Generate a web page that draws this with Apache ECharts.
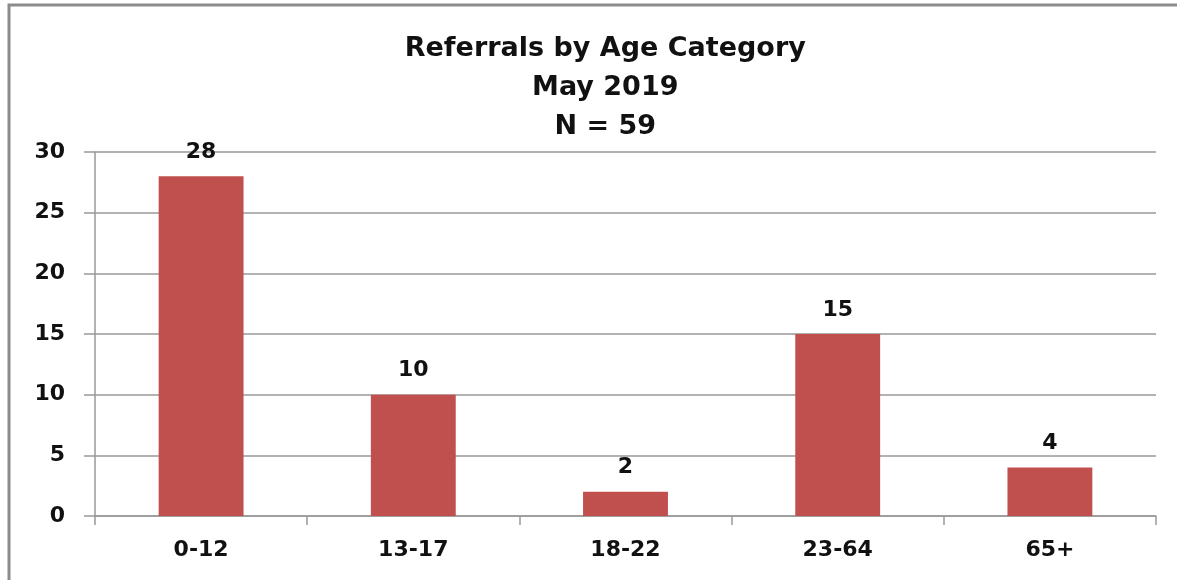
<!DOCTYPE html>
<html><head><meta charset="utf-8">
<script src="https://cdn.jsdelivr.net/npm/echarts@6/dist/echarts.min.js"></script>
<style>html,body{margin:0;padding:0;background:#fff}#c{width:1177px;height:580px}</style>
</head><body><div id="c"></div>
<script>
const categories = ['0-12', '13-17', '18-22', '23-64', '65+'];
const referrals = [28, 10, 2, 15, 4];
const titleLines = ['Referrals by Age Category', 'May 2019', 'N = 59'];
const yTicks = {min: 0, max: 30, interval: 5};

const FONT = '"DejaVu Sans", sans-serif';
const chart = echarts.init(document.getElementById('c'), null, {renderer: 'canvas'});
chart.setOption({
  backgroundColor: '#fff',
  animation: false,
  graphic: [{
    type: 'rect', shape: {x: 9, y: 5, width: 1200, height: 600},
    style: {fill: 'none', stroke: '#8c8c8c', lineWidth: 3}, silent: true
  }],
  title: {
    text: titleLines.join('\n'), left: '51%', top: 24, textAlign: 'center',
    textStyle: {fontFamily: FONT, fontWeight: 'bold', fontSize: 27, color: '#111', lineHeight: 39}
  },
  grid: {left: 95, right: 21, top: 152, bottom: 64, containLabel: false},
  xAxis: {
    type: 'category', data: categories,
    axisLine: {lineStyle: {color: '#999', width: 1.5}},
    axisTick: {show: true, length: 9, alignWithLabel: false, lineStyle: {color: '#999', width: 1.5}},
    axisLabel: {fontFamily: FONT, fontWeight: 'bold', fontSize: 22, color: '#111', margin: 23}
  },
  yAxis: {
    type: 'value', min: yTicks.min, max: yTicks.max, interval: yTicks.interval,
    axisLine: {show: true, lineStyle: {color: '#999', width: 1.5}},
    axisTick: {show: true, length: 11, lineStyle: {color: '#999', width: 1.5}},
    splitLine: {lineStyle: {color: '#999', width: 1.5}},
    axisLabel: {fontFamily: FONT, fontWeight: 'bold', fontSize: 22, color: '#111', margin: 30}
  },
  series: [{
    type: 'bar', data: referrals, barCategoryGap: '60%',
    itemStyle: {color: '#C0504D'},
    label: {show: true, position: 'top', distance: 13, fontFamily: FONT, fontWeight: 'bold', fontSize: 22, color: '#111'}
  }]
});
</script></body></html>
